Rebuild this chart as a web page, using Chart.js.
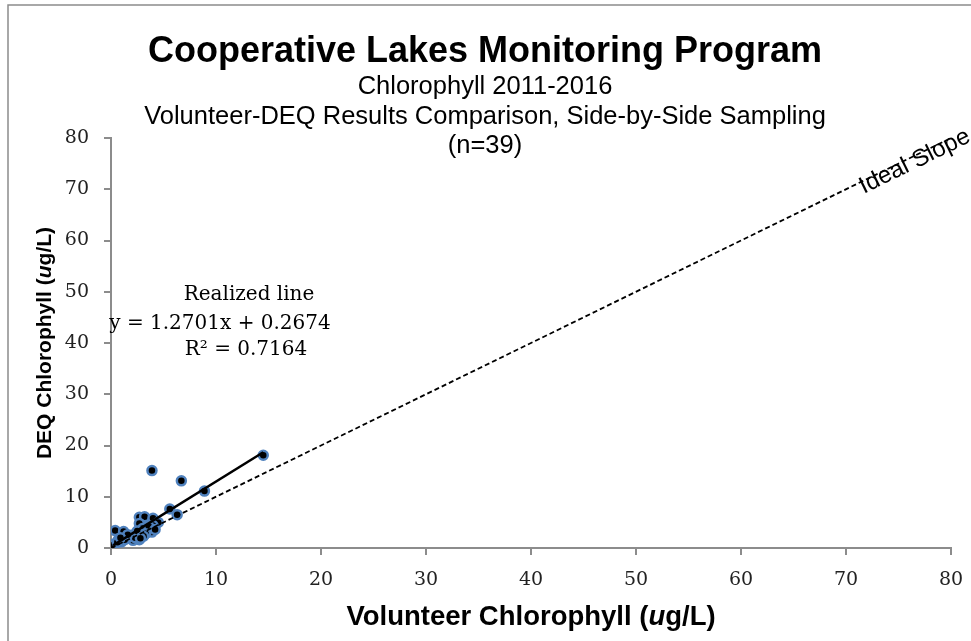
<!DOCTYPE html>
<html>
<head>
<meta charset="utf-8">
<script src="https://cdn.jsdelivr.net/npm/chart.js@4.4.1/dist/chart.umd.min.js"></script>
<style>
  html, body { margin: 0; padding: 0; background: #fff; }
  canvas { display: block; }
</style>
</head>
<body>
<canvas id="chlChart" width="971" height="641"></canvas>
<script>
// side-by-side samples (ug/L)
const volunteer = [14.5, 3.9, 6.7, 8.9, 5.6, 6.3, 2.7, 3.2, 4.0, 2.7, 4.5, 4.0, 3.4, 3.9, 0.4, 1.2, 2.9, 2.4, 2.0, 2.7,
                   2.1, 1.5, 0.7, 0.4, 0.2, 1.0, 1.8, 3.0, 3.6, 2.3, 1.3, 3.3, 0.6, 4.2, 2.5, 1.6, 3.1, 0.9, 2.8];
const deq = [18.1, 15.1, 13.1, 11.1, 7.6, 6.5, 6.0, 6.1, 5.8, 4.8, 5.0, 4.4, 3.5, 3.1, 3.4, 3.2, 2.6, 2.9, 2.5, 1.6,
             1.5, 1.9, 1.6, 0.9, 0.6, 1.2, 2.2, 3.8, 4.2, 2.0, 1.6, 2.8, 1.1, 3.6, 3.3, 2.6, 2.3, 2.0, 1.9];

// realized (fitted) line and ideal 1:1 line
const slope = 1.2701;
const intercept = 0.2674;
const rSquared = 0.7164;
const trendX = [0.2, 14.5];
const idealX = [0, 80];

const tickValues = [0, 10, 20, 30, 40, 50, 60, 70, 80];

const points = volunteer.map((v, i) => ({ x: v, y: deq[i] }));
const trendPts = trendX.map(x => ({ x: x, y: slope * x + intercept }));
const idealPts = idealX.map(x => ({ x: x, y: x }));

const SANS = '"Liberation Sans", Arial, sans-serif';
const SERIF = '"DejaVu Serif", serif';

// title, axis titles, equation text, frame
const decorPlugin = {
    id: 'decor',
    beforeDraw(chart) {
        const c = chart.ctx;
        c.save();
        c.fillStyle = '#fff';
        c.fillRect(0, 0, chart.width, chart.height);
        c.restore();
    },
    afterDraw(chart) {
        const c = chart.ctx;
        const xs = chart.scales.x, ys = chart.scales.y;
        const area = chart.chartArea;
        c.save();

        // outer frame
        c.strokeStyle = '#8c8c8c';
        c.lineWidth = 1.5;
        c.strokeRect(8, 5, 1200, 1200);

        c.fillStyle = '#000';
        c.textAlign = 'center';
        c.textBaseline = 'alphabetic';
        c.font = 'bold 36px ' + SANS;
        c.fillText('Cooperative Lakes Monitoring Program', 485, 62);
        c.font = '25.5px ' + SANS;
        c.fillText('Chlorophyll 2011-2016', 485, 94);
        c.fillText('Volunteer-DEQ Results Comparison, Side-by-Side Sampling', 485, 124);
        c.fillText('(n=39)', 485, 153);

        // axis titles with italic u
        const drawMixed = (parts, size) => {
            let total = 0;
            parts.forEach(p => { c.font = p[1] + ' ' + size + 'px ' + SANS; total += c.measureText(p[0]).width; });
            let x = -total / 2;
            c.textAlign = 'left';
            parts.forEach(p => {
                c.font = p[1] + ' ' + size + 'px ' + SANS;
                c.fillText(p[0], x, 0);
                x += c.measureText(p[0]).width;
            });
        };
        c.save();
        c.translate((area.left + area.right) / 2, 625);
        drawMixed([['Volunteer Chlorophyll (', 'bold'], ['u', 'italic bold'], ['g/L)', 'bold']], 27.5);
        c.restore();

        c.save();
        c.translate(51, (area.top + area.bottom) / 2);
        c.rotate(-Math.PI / 2);
        drawMixed([['DEQ Chlorophyll (', 'bold'], ['u', 'italic bold'], ['g/L)', 'bold']], 21);
        c.restore();

        // equation block
        c.textAlign = 'center';
        c.font = '20px ' + SERIF;
        c.fillText('Realized line', 249, 300);
        c.fillText('y = ' + slope.toFixed(4) + 'x + ' + intercept.toFixed(4), 220, 329);
        c.fillText('R\u00B2 = ' + rSquared.toFixed(4), 246, 355);

        // ideal slope label along the 1:1 line
        const x0 = xs.getPixelForValue(0), y0 = ys.getPixelForValue(0);
        const x1 = xs.getPixelForValue(80), y1 = ys.getPixelForValue(80);
        const ang = Math.atan2(y0 - y1, x1 - x0);
        c.translate(xs.getPixelForValue(71.2), ys.getPixelForValue(71.2));
        c.rotate(-ang);
        c.textAlign = 'left';
        c.font = '24px ' + SANS;
        c.fillText('Ideal Slope', 0, 12);
        c.restore();
    }
};

const axisGrid = {
    drawOnChartArea: false,
    drawTicks: true,
    tickLength: 7,
    color: '#8c8c8c',
    lineWidth: 2
};

new Chart(document.getElementById('chlChart'), {
    type: 'scatter',
    data: {
        datasets: [
            {
                label: 'Realized line',
                data: trendPts,
                showLine: true,
                borderColor: '#000',
                borderWidth: 2.5,
                pointRadius: 0
            },
            {
                label: 'Ideal Slope',
                data: idealPts,
                showLine: true,
                borderColor: '#000',
                borderWidth: 1.8,
                borderDash: [5, 3],
                pointRadius: 0
            },
            {
                label: 'Samples',
                data: points,
                backgroundColor: '#000',
                borderColor: '#4f81bd',
                borderWidth: 2.5,
                pointRadius: 4.5
            }
        ]
    },
    options: {
        responsive: false,
        animation: false,
        devicePixelRatio: 1,
        layout: { padding: { top: 138, right: 20, left: 0, bottom: 0 } },
        scales: {
            x: {
                type: 'linear',
                min: 0,
                max: 80,
                afterBuildTicks: s => { s.ticks = tickValues.map(v => ({ value: v })); },
                afterFit: s => { s.height = 93; s.paddingLeft = 0; s.paddingRight = 0; },
                ticks: { font: { family: SERIF, size: 19 }, color: '#222', padding: 14, maxRotation: 0 },
                grid: axisGrid,
                border: { display: true, color: '#8c8c8c', width: 2 }
            },
            y: {
                type: 'linear',
                min: 0,
                max: 80,
                afterBuildTicks: s => { s.ticks = tickValues.map(v => ({ value: v })); },
                afterFit: s => { s.width = 111; s.paddingTop = 0; s.paddingBottom = 0; },
                ticks: { font: { family: SERIF, size: 19 }, color: '#222', padding: 15 },
                grid: axisGrid,
                border: { display: true, color: '#8c8c8c', width: 2 }
            }
        },
        plugins: {
            legend: { display: false },
            tooltip: { enabled: false }
        }
    },
    plugins: [decorPlugin]
});
</script>
</body>
</html>
